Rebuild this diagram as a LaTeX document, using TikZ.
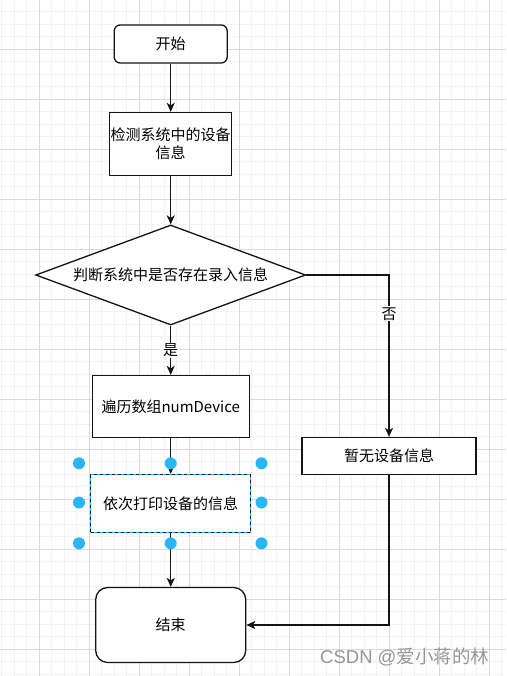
\documentclass[tikz,border=0pt]{standalone}
\usepackage{fontspec}
\setmainfont{Noto Sans CJK SC}
\newfontfamily\wmlat{Liberation Sans}
\usetikzlibrary{arrows.meta,shapes.geometric}
\definecolor{minorg}{RGB}{243,243,243}
\definecolor{majorg}{RGB}{218,218,218}
\definecolor{handlec}{RGB}{41,182,246}
\definecolor{linec}{RGB}{20,20,20}
\definecolor{wmc}{RGB}{150,150,150}
\tikzset{
  box/.style={draw=linec, fill=white, line width=1.3pt, align=center, inner sep=0pt,
    font=\fontsize{15}{18.5}\selectfont},
  arr/.style={draw=linec, line width=1.2pt, -{Stealth[length=9pt,width=8pt,inset=2.5pt]}},
  lbl/.style={fill=white, inner sep=1pt, font=\fontsize{15}{18}\selectfont},
  handle/.style={circle, fill=handlec, inner sep=0pt, minimum size=12pt},
}
\begin{document}
\begin{tikzpicture}[x=1pt,y=-1pt]
\useasboundingbox (0,0) rectangle (506,676);
\fill[white] (0,0) rectangle (506,676);
% grid
\foreach \i in {0,...,41} {
  \draw[minorg, line width=0.8pt] ({-10.7+12.5*\i},0) -- ({-10.7+12.5*\i},676);
}
\foreach \j in {0,...,54} {
  \draw[minorg, line width=0.8pt] (0,{-1+12.5*\j}) -- (506,{-1+12.5*\j});
}
\foreach \i in {0,...,10} {
  \draw[majorg, line width=0.8pt] ({-10.7+50*\i},0) -- ({-10.7+50*\i},676);
}
\foreach \j in {0,...,13} {
  \draw[majorg, line width=0.8pt] (0,{-1+50*\j}) -- (506,{-1+50*\j});
}
% nodes
\node[box, rounded corners=6pt, minimum width=113pt, minimum height=38pt] (start) at (170.7,44) {开始};
\node[box, minimum width=122pt, minimum height=63pt] (detect) at (170.7,144) {检测系统中的设备\\信息};
\node[box, shape=diamond, aspect=2.7, minimum width=270pt, minimum height=100pt] (dec) at (170.7,275) {判断系统中是否存在录入信息};
\node[box, minimum width=157pt, minimum height=62pt] (loop) at (170.7,406.5) {遍历数组numDevice};
\node[box, draw=handlec, minimum width=160pt, minimum height=58pt,
  postaction={draw=linec, line width=1pt, dash pattern=on 3pt off 3pt}] (print) at (170.7,503.5) {依次打印设备的信息};
\node[box, rounded corners=12pt, minimum width=150pt, minimum height=75pt] (endn) at (170.7,625) {结束};
\node[box, minimum width=174pt, minimum height=37pt] (none) at (389,456) {暂无设备信息};
% connectors
\draw[arr] (start) -- (detect);
\draw[arr] (detect) -- (dec);
\draw[arr] (dec) -- node[lbl] (yes) {是} (loop);
\draw[arr] (dec.east) -| node[lbl, pos=0.62] (no) {否} (none.north);
\draw[arr] (loop) -- (print);
\draw[arr] (print) -- (endn);
\draw[arr] (none.south) |- (endn.east);
% selection handles
\node[handle] (h1) at (79,463.3) {};
\node[handle] (h2) at (170.7,463.3) {};
\node[handle] (h3) at (261.5,463.3) {};
\node[handle] (h4) at (79,502.5) {};
\node[handle] (h5) at (261.5,502.5) {};
\node[handle] (h6) at (79,543.3) {};
\node[handle] (h7) at (170.7,543.3) {};
\node[handle] (h8) at (261.5,543.3) {};
% watermark
\node[anchor=west, text=wmc, inner sep=0pt, font=\fontsize{18.5}{20}\selectfont] (wm) at (320,657) {{\wmlat CSDN @}爱小蒋的林};
\end{tikzpicture}
\end{document}
